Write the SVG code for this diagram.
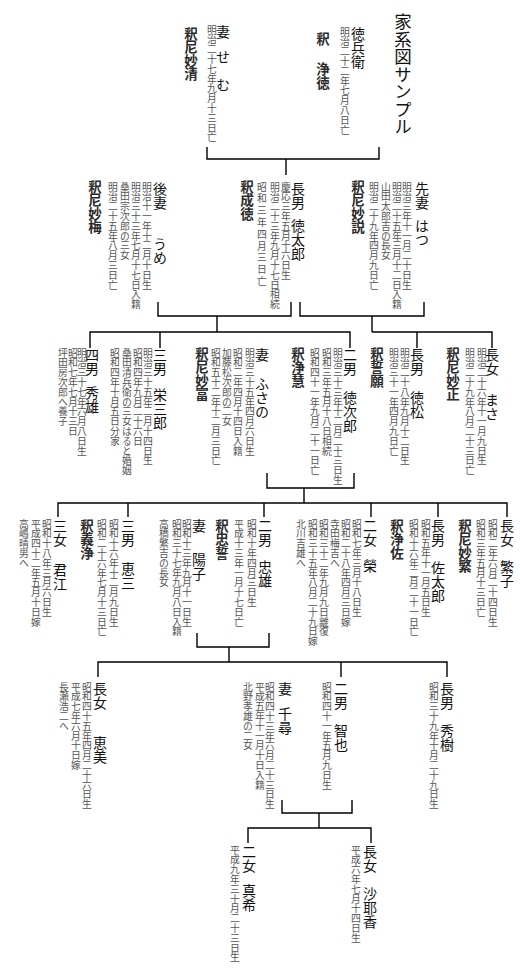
<svg xmlns="http://www.w3.org/2000/svg" width="520" height="980" viewBox="0 0 520 980">
<style>
.t{writing-mode:vertical-rl;font-family:"Noto Sans CJK JP","Noto Sans CJK SC",sans-serif}
.n{font-size:14px;fill:#111}
.d{font-size:9.8px;fill:#555}
.p{font-size:13.5px;font-weight:700;fill:#2a2a2a}
.ttl{font-size:17.5px;fill:#111}
.ln{stroke:#000;stroke-width:1.4;fill:none}
</style>
<rect width="520" height="980" fill="#fff"/>
<text class="t ttl" x="403" y="13">家系図サンプル</text>
<g id="connectors">
<path class="ln" d="M207,147V159H379V147M286,159V175"/>
<path class="ln" d="M158,302V316H291V302M217,316V332"/>
<path class="ln" d="M300,302V316H424V302M372,316V332"/>
<path class="ln" d="M90,348V332H350V348M160,332V348"/>
<path class="ln" d="M372,332H492V348M417,332V348"/>
<path class="ln" d="M267,473V488H354V473M304,488V503"/>
<path class="ln" d="M58,517V503H507V517M128,503V517M264,503V517M371,503V517M438,503V517"/>
<path class="ln" d="M197,633V647H269V633M229,647V662"/>
<path class="ln" d="M98,677V662H447V677M341,662V677"/>
<path class="ln" d="M282,800V813H352V800M319,813V828"/>
<path class="ln" d="M248,843V828H371V843"/>
</g>
<g id="n-tokubee">
<text class="t n" x="358" y="27">徳兵衛</text>
<text class="t d" x="345" y="27">明治二十二年七月八日亡</text>
<text class="t p" x="323" y="32">釈<tspan y="62">浄徳</tspan></text>
</g>
<g id="n-semu">
<text class="t n" x="223" y="25">妻<tspan y="50">せ</tspan><tspan y="78">む</tspan></text>
<text class="t d" x="212" y="25">明治二十七年九月十三日亡</text>
<text class="t p" x="191" y="27">釈尼妙清</text>
</g>
<g id="n-ume">
<text class="t n" x="160" y="182">後妻<tspan y="237">うめ</tspan></text>
<text class="t d" x="147" y="182">明治十一年十二月十日生</text>
<text class="t d" x="136" y="182">明治三十三年七月十七日入籍</text>
<text class="t d" x="125" y="182">桑田宗次郎の三女</text>
<text class="t d" x="113" y="182">明治二十五年八月三日亡</text>
<text class="t p" x="95" y="180">釈尼妙梅</text>
</g>
<g id="n-tokutaro">
<text class="t n" x="298" y="182">長男<tspan y="219">徳太郎</tspan></text>
<text class="t d" x="286" y="182">慶応三年五月十六日生</text>
<text class="t d" x="275" y="182">明治二十三年九月十七日相続</text>
<text class="t d" x="262" y="182" letter-spacing="2">昭和三年四月三日亡</text>
<text class="t p" x="247" y="180">釈成徳</text>
</g>
<g id="n-hatsu">
<text class="t n" x="422" y="182">先妻<tspan y="219">はつ</tspan></text>
<text class="t d" x="407" y="182">明治三年十一月二十日生</text>
<text class="t d" x="397" y="182">明治二十五年三月十二日入籍</text>
<text class="t d" x="386" y="182">山田太郎吉の長女</text>
<text class="t d" x="374" y="182">明治二十九年四月九日亡</text>
<text class="t p" x="358" y="180">釈尼妙説</text>
</g>
<g id="n-hideo">
<text class="t n" x="92" y="348">四男<tspan y="386">秀雄</tspan></text>
<text class="t d" x="82" y="348">明治三十七年六月八日生</text>
<text class="t d" x="73" y="348">昭和七年七月十三日</text>
<text class="t d" x="63" y="348">坪田房次郎へ養子</text>
</g>
<g id="n-eizaburo">
<text class="t n" x="160" y="348">三男<tspan y="388">栄三郎</tspan></text>
<text class="t d" x="148" y="348">明治三十五年二月十四日生</text>
<text class="t d" x="138" y="348">昭和四年九月二十六日</text>
<text class="t d" x="127" y="348">桑田清兵衛の三女はると婚姻</text>
<text class="t d" x="115" y="348">昭和四年十月五日分家</text>
</g>
<g id="n-fusano">
<text class="t n" x="262" y="348">妻<tspan y="377">ふさの</tspan></text>
<text class="t d" x="250" y="348">明治三十五年四月六日生</text>
<text class="t d" x="238" y="348">昭和二年四月十四日入籍</text>
<text class="t d" x="227" y="348">加藤松次郎の二女</text>
<text class="t d" x="216" y="348">昭和五十二年十二月三日亡</text>
<text class="t p" x="202" y="347">釈尼妙富</text>
</g>
<g id="n-tokujiro">
<text class="t n" x="350" y="348">二男<tspan y="391">徳次郎</tspan></text>
<text class="t d" x="338" y="348">明治三十三年十二月二十三日生</text>
<text class="t d" x="327" y="348">昭和三年五月十八日相続</text>
<text class="t d" x="315" y="348">昭和四十一年九月二十一日亡</text>
<text class="t p" x="298" y="347">釈浄慧</text>
</g>
<g id="n-tokumatsu">
<text class="t n" x="417" y="348">長男<tspan y="391">徳松</tspan></text>
<text class="t d" x="405" y="348">明治二十八年九月十二日生</text>
<text class="t d" x="394" y="348">明治三十一年四月九日亡</text>
<text class="t p" x="377" y="347">釈誓願</text>
</g>
<g id="n-masa">
<text class="t n" x="492" y="348">長女<tspan y="393">まさ</tspan></text>
<text class="t d" x="482" y="348">明治二十六年十一月九日生</text>
<text class="t d" x="470" y="348">明治二十九年八月二十三日亡</text>
<text class="t p" x="453" y="347">釈尼妙正</text>
</g>
<g id="n-kimie">
<text class="t n" x="60" y="519">三女<tspan y="563">君江</tspan></text>
<text class="t d" x="47" y="519">昭和十八年三月六日生</text>
<text class="t d" x="36" y="519">平成四十二年五月十日嫁</text>
<text class="t d" x="24" y="519">高嶋晴男へ</text>
</g>
<g id="n-keizo">
<text class="t n" x="128" y="519">三男<tspan y="562">恵三</tspan></text>
<text class="t d" x="114" y="519">昭和十六年十二月九日生</text>
<text class="t d" x="102" y="519">昭和二十六年七月十三日亡</text>
<text class="t p" x="87" y="519">釈義浄</text>
</g>
<g id="n-yoko">
<text class="t n" x="199" y="519">妻<tspan y="553">陽子</tspan></text>
<text class="t d" x="187" y="519">昭和十三年九月十一日生</text>
<text class="t d" x="177" y="519">昭和三十七年九月八日入籍</text>
<text class="t d" x="164" y="519">高橋繁吉の長女</text>
</g>
<g id="n-tadao">
<text class="t n" x="265" y="519">二男<tspan y="560">忠雄</tspan></text>
<text class="t d" x="252" y="519">昭和十年四月三日生</text>
<text class="t d" x="239" y="519">平成十三年一月十七日亡</text>
<text class="t p" x="222" y="519">釈忠誓</text>
</g>
<g id="n-sakae">
<text class="t n" x="370" y="519">二女<tspan y="559">榮</tspan></text>
<text class="t d" x="357" y="519">昭和七年三月十八日生</text>
<text class="t d" x="346" y="519">昭和二十八年四月三日嫁</text>
<text class="t d" x="335" y="519">寺田梅吉へ</text>
<text class="t d" x="324" y="519">昭和三十二年九月九日離復</text>
<text class="t d" x="313" y="519">昭和三十五年八月二十九日嫁</text>
<text class="t d" x="301" y="519">北川吉雄へ</text>
</g>
<g id="n-satarou">
<text class="t n" x="438" y="519">長男<tspan y="561">佐太郎</tspan></text>
<text class="t d" x="426" y="519">昭和五年十一月五日生</text>
<text class="t d" x="414" y="519">昭和十六年二月二十一日亡</text>
<text class="t p" x="397" y="519">釈浄佐</text>
</g>
<g id="n-shigeko">
<text class="t n" x="507" y="519">長女<tspan y="560">繁子</tspan></text>
<text class="t d" x="493" y="519">昭和二年六月二十四日生</text>
<text class="t d" x="481" y="519">昭和三年五月十三日亡</text>
<text class="t p" x="465" y="519">釈尼妙繁</text>
</g>
<g id="n-emi">
<text class="t n" x="100" y="682">長女<tspan y="736">恵美</tspan></text>
<text class="t d" x="87" y="682">昭和四十五年四月二十六日生</text>
<text class="t d" x="76" y="682">平成七年六月十日嫁</text>
<text class="t d" x="64" y="682">長瀬浩二へ</text>
</g>
<g id="n-chihiro">
<text class="t n" x="285" y="682">妻<tspan y="707">千尋</tspan></text>
<text class="t d" x="270" y="682">昭和四十三年六月二十三日生</text>
<text class="t d" x="260" y="682">平成五年十一月十日入籍</text>
<text class="t d" x="248" y="682">北野孝雄の二女</text>
</g>
<g id="n-tomoya">
<text class="t n" x="341" y="682">二男<tspan y="724">智也</tspan></text>
<text class="t d" x="327" y="682">昭和四十一年五月九日生</text>
</g>
<g id="n-hideki">
<text class="t n" x="447" y="682">長男<tspan y="724">秀樹</tspan></text>
<text class="t d" x="434" y="682">昭和三十九年十月二十九日生</text>
</g>
<g id="n-maki">
<text class="t n" x="249" y="845">二女<tspan y="884">真希</tspan></text>
<text class="t d" x="235" y="845">平成九年三十月二十三日生</text>
</g>
<g id="n-sayaka">
<text class="t n" x="370" y="845">長女<tspan y="887">沙耶香</tspan></text>
<text class="t d" x="356" y="845">平成六年七月十四日生</text>
</g>
</svg>
